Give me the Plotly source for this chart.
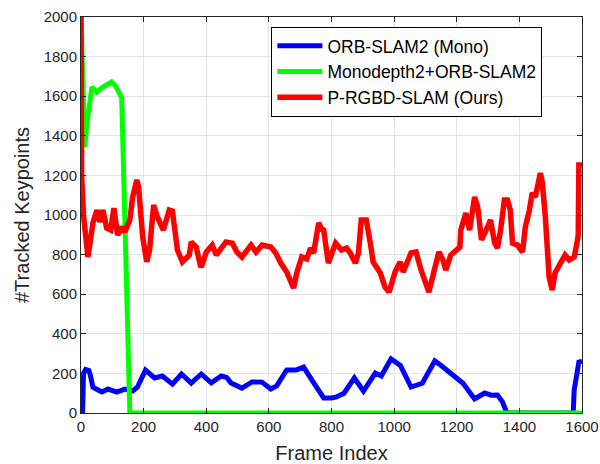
import plotly.graph_objects as go

# ORB-SLAM2 (Mono)
orb_x = [5, 8, 15, 25, 30, 38, 50, 67, 86, 100, 114, 140, 165, 180, 206, 235, 260, 292, 321, 352,
         384, 416, 448, 465, 479, 514, 546, 578, 606, 625, 657, 686, 711, 737, 775, 800, 816, 840,
         873, 902, 940, 959, 990, 1020, 1054, 1090, 1130, 1150, 1180, 1220, 1257, 1289, 1310, 1330,
         1346, 1356, 1360, 1572, 1575, 1590, 1600]
orb_y = [0, 200, 220, 215, 190, 131, 120, 106, 121, 115, 106, 121, 111, 130, 217, 177, 187, 146, 197, 151,
         197, 152, 187, 180, 152, 126, 157, 156, 121, 137, 217, 217, 232, 167, 76, 76, 81, 100,
         177, 111, 202, 187, 273, 240, 131, 150, 263, 240, 200, 150, 71, 101, 90, 91,
         56, 15, 0, 0, 116, 257, 262]

# Monodepth2+ORB-SLAM2
md_x = [0, 3, 12, 19, 31, 35, 50, 70, 98, 111, 130, 140, 146, 156, 1600]
md_y = [2000, 1800, 1343, 1465, 1580, 1646, 1621, 1646, 1672, 1651, 1591, 889, 571, 0, 0]

# P-RGBD-SLAM (Ours)
our_x = [0, 2, 8, 13, 22, 29, 38, 51, 60, 70, 82, 95, 105, 117, 130, 140, 156, 165, 178, 184,
         197, 210, 219, 232, 244, 263, 282, 292, 308, 324, 346, 352, 368, 381, 384, 400, 419, 432,
         448, 463, 483, 498, 514, 543, 559, 578, 606, 622, 638, 657, 679, 689, 705, 721, 733, 743,
         759, 768, 775, 790, 813, 832, 848, 860, 876, 886, 895, 911, 924, 933, 956, 971, 984, 1003,
         1019, 1029, 1054, 1070, 1086, 1111, 1130, 1143, 1156, 1165, 1181, 1197, 1210, 1213, 1229,
         1241, 1257, 1267, 1279, 1298, 1308, 1321, 1330, 1340, 1352, 1362, 1371, 1378, 1394, 1410,
         1419, 1432, 1441, 1451, 1460, 1467, 1473, 1483, 1495, 1505, 1514, 1530, 1546, 1559, 1575,
         1584, 1588, 1590, 1600]
our_y = [2000, 1200, 1000, 939, 788, 858, 960, 1025, 965, 1025, 934, 924, 1035, 899, 939, 914, 975, 1091, 1177, 1141,
         889, 763, 823, 1050, 990, 924, 1025, 1020, 823, 763, 798, 864, 838, 747, 737, 813, 848, 798,
         838, 864, 858, 813, 788, 848, 813, 848, 838, 808, 757, 712, 631, 707, 788, 778, 833, 808,
         960, 930, 924, 757, 858, 823, 833, 808, 757, 808, 975, 975, 858, 763, 707, 636, 611, 712,
         763, 712, 808, 813, 722, 611, 732, 813, 773, 722, 798, 823, 838, 924, 1010,
         924, 1091, 1040, 874, 939, 975, 858, 833, 924, 1076, 1076, 1025, 858, 848, 813,
         939, 1025, 1111, 1091, 1162, 1212, 1167, 990, 687, 621, 707, 747, 798, 773, 788,
         858, 900, 1252, 1252]

series_names = ["ORB-SLAM2 (Mono)", "Monodepth2+ORB-SLAM2", "P-RGBD-SLAM (Ours)"]
x_ticks = [0, 200, 400, 600, 800, 1000, 1200, 1400, 1600]
y_ticks = [0, 200, 400, 600, 800, 1000, 1200, 1400, 1600, 1800, 2000]

FONT = "Liberation Sans, Arial, Helvetica, sans-serif"
TXT = "#262626"

fig = go.Figure()
fig.add_trace(go.Scatter(x=orb_x, y=orb_y, mode="lines", name=series_names[0],
                         line=dict(color="#0000FF", width=5)))
fig.add_trace(go.Scatter(x=md_x, y=md_y, mode="lines", name=series_names[1],
                         line=dict(color="#00FF00", width=5)))
fig.add_trace(go.Scatter(x=our_x, y=our_y, mode="lines", name=series_names[2],
                         line=dict(color="#FF0000", width=5.5)))

axis_common = dict(
    showline=True, linecolor=TXT, linewidth=1, mirror="ticks",
    ticks="inside", ticklen=5, tickcolor=TXT,
    showgrid=True, gridcolor="#e3e3e3", gridwidth=1, zeroline=False,
    tickfont=dict(family=FONT, size=15, color=TXT),
    automargin=False, ticklabeloverflow="allow",
)

fig.update_layout(
    width=600, height=464,
    margin=dict(l=81, r=18, t=17, b=51),
    paper_bgcolor="white", plot_bgcolor="white",
    font=dict(family=FONT, color=TXT),
    xaxis=dict(range=[0, 1600], tickvals=x_ticks,
               title=dict(text="Frame Index", font=dict(family=FONT, size=20, color=TXT), standoff=14),
               **axis_common),
    yaxis=dict(range=[0, 2000], tickvals=y_ticks,
               title=dict(text="#Tracked Keypoints", font=dict(family=FONT, size=20, color=TXT), standoff=8),
               **axis_common),
    legend=dict(x=0.38, y=0.975, xanchor="left", yanchor="top",
                bgcolor="white", bordercolor="#000000", borderwidth=1,
                font=dict(family=FONT, size=17.5, color="#000000"),
                tracegroupgap=0, itemwidth=45),
    showlegend=True,
)

fig.write_html("out.html")
